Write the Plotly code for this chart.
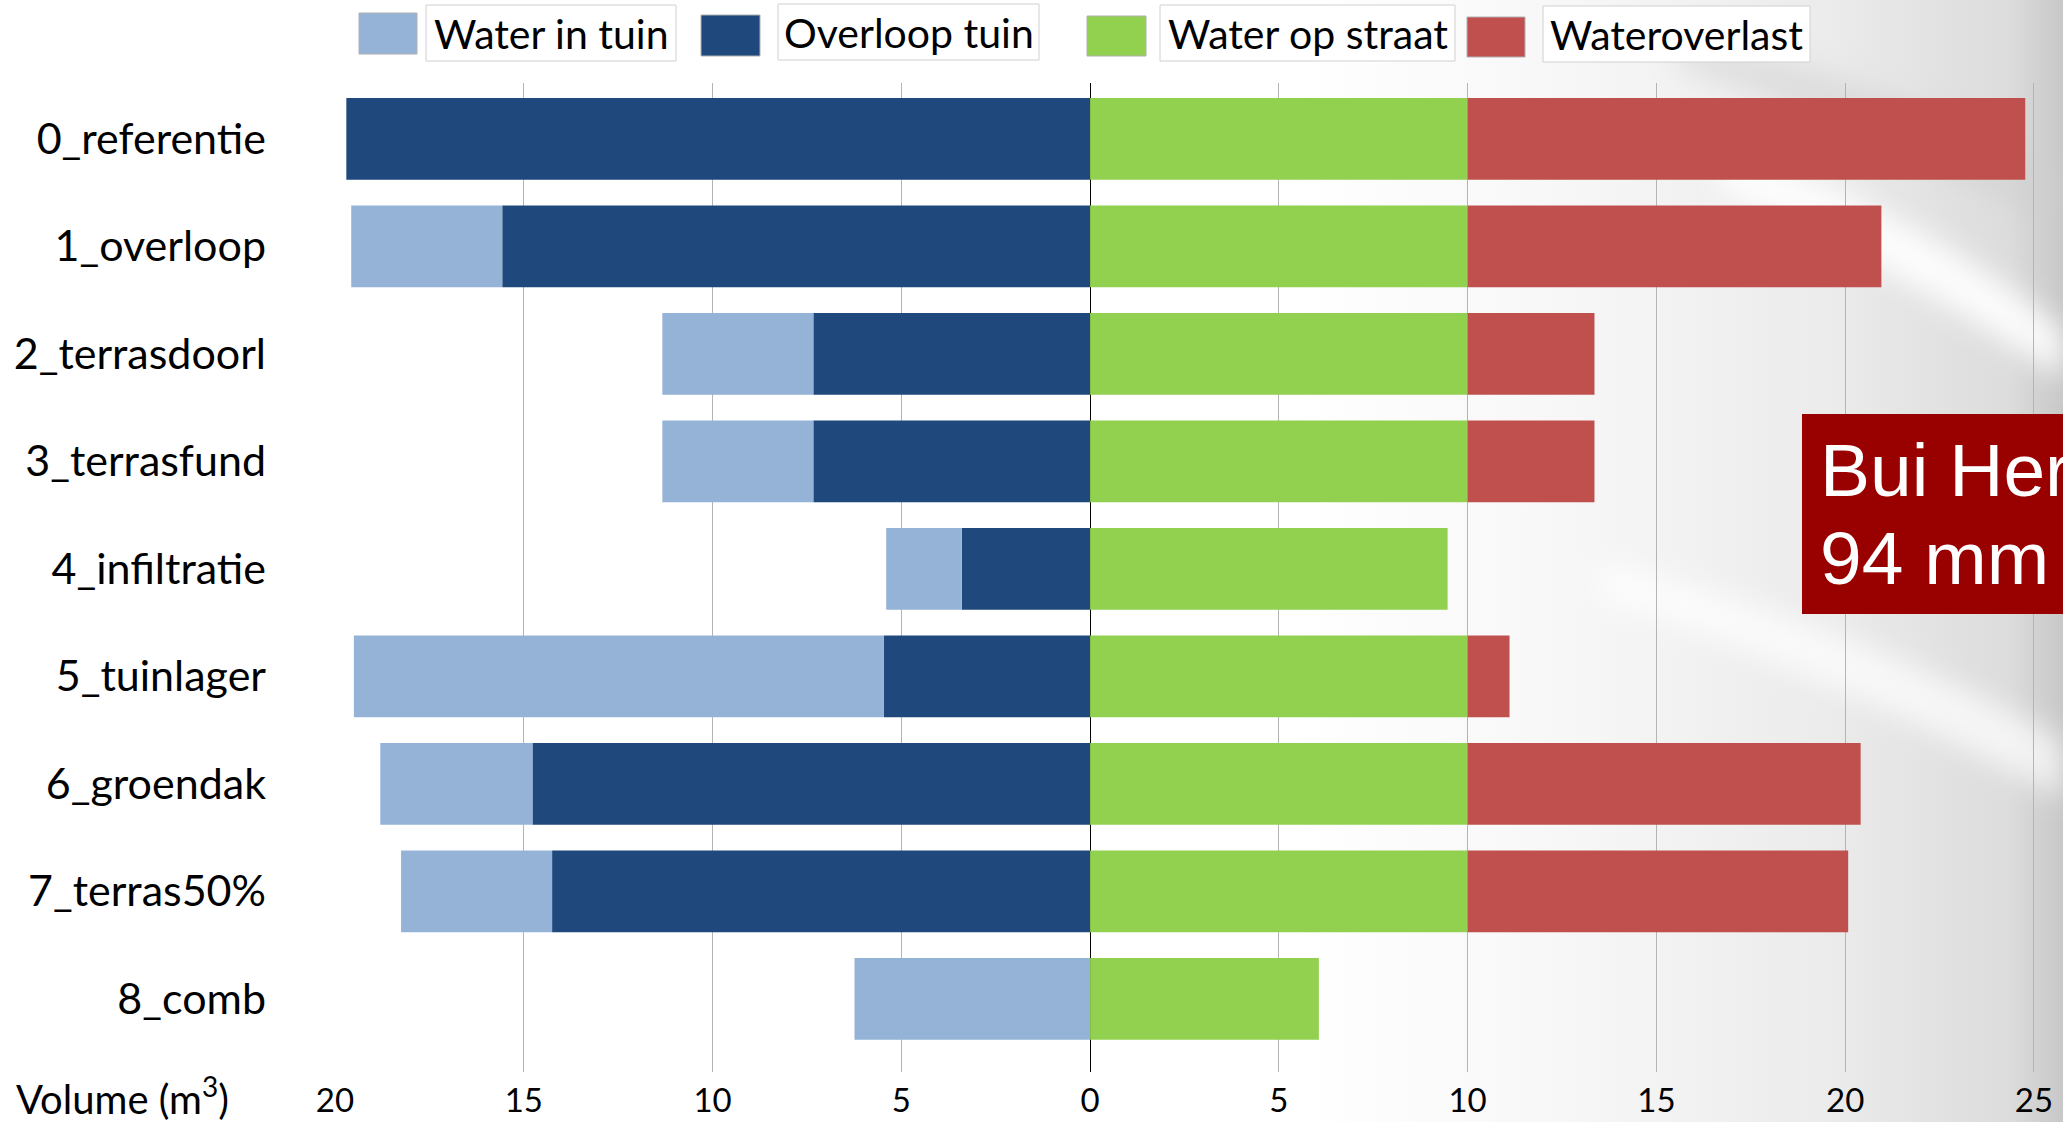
import base64
import plotly.graph_objects as go

# data (m3)
categories = ["0_referentie", "1_overloop", "2_terrasdoorl", "3_terrasfund",
              "4_infiltratie", "5_tuinlager", "6_groendak", "7_terras50%", "8_comb"]
overloop_tuin = [19.70, 15.57, 7.33, 7.33, 3.40, 5.46, 14.77, 14.25, 0.0]
water_in_tuin = [0.0, 4.00, 4.00, 4.00, 2.00, 14.04, 4.03, 4.00, 6.24]
water_op_straat = [10.0, 10.0, 10.0, 10.0, 9.47, 10.0, 10.0, 10.0, 6.06]
wateroverlast = [14.77, 10.96, 3.36, 3.36, 0.0, 1.11, 10.41, 10.08, 0.0]

tick_vals = [-20, -15, -10, -5, 0, 5, 10, 15, 20, 25]
tick_text = ["20", "15", "10", "5", "0", "5", "10", "15", "20", "25"]

W, H = 2063, 1122
L, R, T, B = 335, 0, 83, 50
PW, PH = W - L - R, H - T - B
FONT = "Lato, 'Noto Sans', sans-serif"


def px(x):
    return (x - L) / PW


def py(y):
    return (H - B - y) / PH


fig = go.Figure()
fig.add_trace(go.Bar(y=categories, x=[-v for v in overloop_tuin], name="Overloop tuin",
                     orientation="h", marker_color="#1F497D"))
fig.add_trace(go.Bar(y=categories, x=[-v for v in water_in_tuin], name="Water in tuin",
                     orientation="h", marker_color="#95B3D7"))
fig.add_trace(go.Bar(y=categories, x=water_op_straat, name="Water op straat",
                     orientation="h", marker_color="#92D050"))
fig.add_trace(go.Bar(y=categories, x=wateroverlast, name="Wateroverlast",
                     orientation="h", marker_color="#C0504D"))
fig.update_traces(marker_line_width=0)

# grey backdrop on the right side
svg = """<svg xmlns='http://www.w3.org/2000/svg' width='763' height='1122'>
<defs>
<linearGradient id='g' x1='0' y1='0' x2='1' y2='0'>
<stop offset='0' stop-color='#ffffff'/>
<stop offset='0.35' stop-color='#f7f7f7'/>
<stop offset='0.7' stop-color='#ebebeb'/>
<stop offset='0.93' stop-color='#dcdcdc'/>
<stop offset='1' stop-color='#c8c8c8'/>
</linearGradient>
<filter id='b'><feGaussianBlur stdDeviation='14'/></filter>
</defs>
<rect width='763' height='1122' fill='url(#g)'/>
<path d='M380 40 C520 60 640 110 763 170 L763 230 C640 170 520 110 380 70 Z' fill='#cfcfcf' opacity='0.5' filter='url(#b)'/>
<path d='M420 150 C560 190 680 260 763 330 L763 380 C660 310 560 250 420 190 Z' fill='#ffffff' opacity='0.9' filter='url(#b)'/>
<path d='M300 560 C460 600 620 660 763 740 L763 800 C620 720 460 650 300 600 Z' fill='#ffffff' opacity='0.7' filter='url(#b)'/>
</svg>"""
src = "data:image/svg+xml;base64," + base64.b64encode(svg.encode()).decode()
fig.add_layout_image(source=src, xref="paper", yref="paper", x=px(1300), y=py(0),
                     sizex=763 / PW, sizey=H / PH, xanchor="left", yanchor="top",
                     sizing="stretch", layer="below")

shapes = []
annotations = []

# legend drawn by hand: swatch + boxed label
legend = [
    ("Water in tuin", "#95B3D7", (359, 417, 13, 54), (426, 676, 5, 61)),
    ("Overloop tuin", "#1F497D", (701, 760, 15, 56), (778, 1039, 4, 60)),
    ("Water op straat", "#92D050", (1087, 1146, 16, 56), (1160, 1455, 5, 61)),
    ("Wateroverlast", "#C0504D", (1467, 1525, 17, 57), (1543, 1810, 6, 62)),
]
for name, col, sw, bx in legend:
    shapes.append(dict(type="rect", xref="paper", yref="paper",
                       x0=px(sw[0]), x1=px(sw[1]), y0=py(sw[3]), y1=py(sw[2]),
                       fillcolor=col, line=dict(color="#b0b0b0", width=1)))
    shapes.append(dict(type="rect", xref="paper", yref="paper",
                       x0=px(bx[0]), x1=px(bx[1]), y0=py(bx[3]), y1=py(bx[2]),
                       fillcolor="white", line=dict(color="#d0d0d0", width=1)))
    annotations.append(dict(text=name, xref="paper", yref="paper",
                            x=px((bx[0] + bx[1]) / 2), y=py((bx[2] + bx[3]) / 2),
                            xanchor="center", yanchor="middle", showarrow=False,
                            font=dict(family=FONT, size=41, color="black")))

# red label box
shapes.append(dict(type="rect", xref="paper", yref="paper",
                   x0=px(1802), x1=px(2070), y0=py(614), y1=py(414),
                   fillcolor="#990000", line=dict(width=0)))
for txt, yc in [("Bui Her", 470), ("94 mm", 558)]:
    annotations.append(dict(text=txt, xref="paper", yref="paper", x=px(1818), y=py(yc),
                            xanchor="left", yanchor="middle", showarrow=False,
                            font=dict(family="'Liberation Sans', Arial, sans-serif",
                                      size=75, color="white")))

annotations.append(dict(text="Volume (m<sup>3</sup>)", xref="paper", yref="paper",
                        x=px(14), y=py(1096), xanchor="left", yanchor="middle",
                        showarrow=False, font=dict(family=FONT, size=40, color="black")))

fig.update_layout(
    width=W, height=H,
    margin=dict(l=L, r=R, t=T, b=B, pad=0),
    barmode="relative", bargap=0.24,
    showlegend=False,
    paper_bgcolor="white", plot_bgcolor="rgba(0,0,0,0)",
    font=dict(family=FONT, color="black"),
    shapes=shapes, annotations=annotations,
)
fig.update_xaxes(range=[-20, 25.77], tickvals=tick_vals, ticktext=tick_text,
                 showgrid=True, gridcolor="#b4b4b4", gridwidth=1,
                 zeroline=True, zerolinecolor="black", zerolinewidth=1.3,
                 showline=False, ticks="", ticklabelstandoff=6,
                 tickfont=dict(family=FONT, size=33, color="black"))
fig.update_yaxes(type="category", categoryarray=categories, range=[8.68, -0.52],
                 showgrid=False, zeroline=False, showline=False, ticks="",
                 ticklabelstandoff=68,
                 tickfont=dict(family=FONT, size=43, color="black"))

# page body margin would push the figure 8px off the window
fig.write_html("out.html", config={"displayModeBar": False},
               post_script="document.body.style.margin='0';")
